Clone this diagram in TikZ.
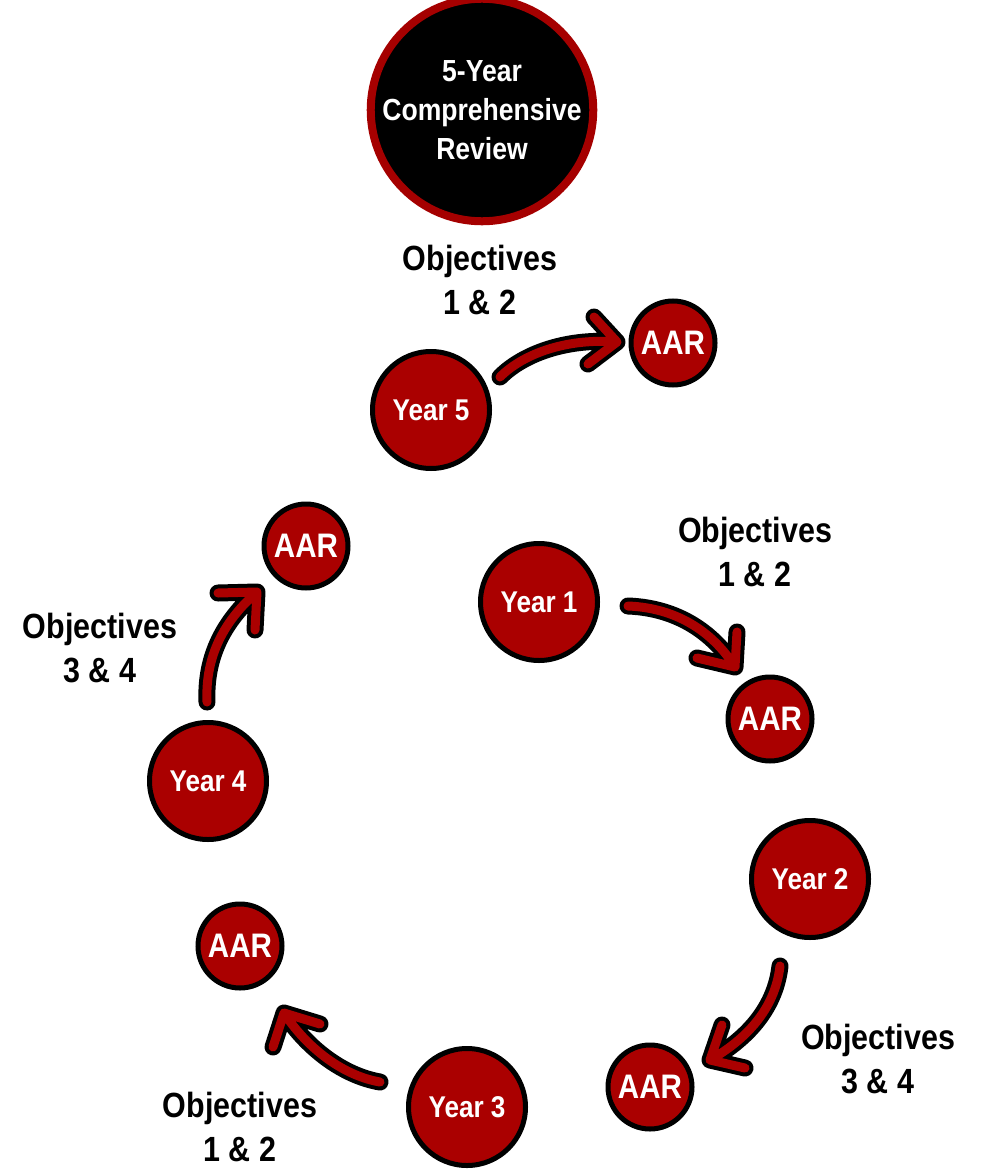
\documentclass[tikz,border=0pt]{standalone}
\usepackage{fontspec}
\setmainfont{Liberation Sans}[FakeStretch=0.87]
\definecolor{dred}{HTML}{AA0000}
\definecolor{bred}{HTML}{A50000}
\begin{document}
\begin{tikzpicture}[x=1pt,y=-1pt,
  yearnode/.style={circle,draw=black,line width=5pt,fill=dred,minimum size=117pt,inner sep=0pt,text=white,font=\fontsize{30}{34}\selectfont\bfseries},
  aarnode/.style={circle,draw=black,line width=5pt,fill=dred,minimum size=84pt,inner sep=0pt,text=white,font=\fontsize{34}{38}\selectfont\bfseries},
  bignode/.style={circle,draw=bred,line width=8pt,fill=black,minimum size=208pt,inner sep=0pt,text=white,align=center,font=\fontsize{30.5}{39}\selectfont\bfseries},
  objlabel/.style={align=center,inner sep=0pt,text=black,font=\fontsize{35}{44}\selectfont\bfseries},
  arrout/.style={line width=17pt,line cap=round,line join=round,draw=black},
  arrin/.style={line width=9pt,line cap=round,line join=round,draw=dred}]
\useasboundingbox (0,0) rectangle (985,1169);

\node[bignode] (big) at (482,110) {5-Year\\Comprehensive\\Review};

\node[yearnode] (y5) at (431,410) {Year 5};
\node[yearnode] (y1) at (539,602) {Year 1};
\node[yearnode] (y2) at (810,879) {Year 2};
\node[yearnode] (y3) at (467,1107) {Year 3};
\node[yearnode] (y4) at (208,781) {Year 4};

\node[aarnode] (a5) at (673,343) {AAR};
\node[aarnode] (a1) at (770,719) {AAR};
\node[aarnode] (a2) at (650,1087) {AAR};
\node[aarnode] (a3) at (240,946) {AAR};
\node[aarnode] (a4) at (306,546) {AAR};

\node[objlabel] (o5) at (480,280) {Objectives\\1 \& 2};
\node[objlabel] (o1) at (755,552) {Objectives\\1 \& 2};
\node[objlabel] (o2) at (878,1059) {Objectives\\3 \& 4};
\node[objlabel] (o3) at (240,1127) {Objectives\\1 \& 2};
\node[objlabel] (o4) at (100,648) {Objectives\\3 \& 4};

% arrow endpoints
\coordinate (s5) at (500,377); \coordinate (t5) at (617,342);
\coordinate (p5a) at (594,317); \coordinate (p5b) at (588,364);
\coordinate (s1) at (628,606); \coordinate (t1) at (735,667);
\coordinate (p1a) at (737,632); \coordinate (p1b) at (697,658);
\coordinate (s2) at (780,966); \coordinate (t2) at (710,1060);
\coordinate (p2a) at (722,1025); \coordinate (p2b) at (745,1068);
\coordinate (s3) at (380,1082); \coordinate (t3) at (284,1013);
\coordinate (p3a) at (320,1024); \coordinate (p3b) at (273,1047);
\coordinate (s4) at (207,702); \coordinate (t4) at (257,592);
\coordinate (p4a) at (218,593); \coordinate (p4b) at (255,630);

\foreach \st in {arrout,arrin}{
  \draw[\st] (s5) .. controls (525,352) and (570,338) .. (t5) (p5a) -- (t5) -- (p5b);
  \draw[\st] (s1) .. controls (680,608) and (715,635) .. (t1) (p1a) -- (t1) -- (p1b);
  \draw[\st] (s2) .. controls (775,1010) and (745,1040) .. (t2) (p2a) -- (t2) -- (p2b);
  \draw[\st] (s3) .. controls (340,1075) and (305,1045) .. (t3) (p3a) -- (t3) -- (p3b);
  \draw[\st] (s4) .. controls (205,655) and (225,620) .. (t4) (p4a) -- (t4) -- (p4b);
}
\end{tikzpicture}
\end{document}
